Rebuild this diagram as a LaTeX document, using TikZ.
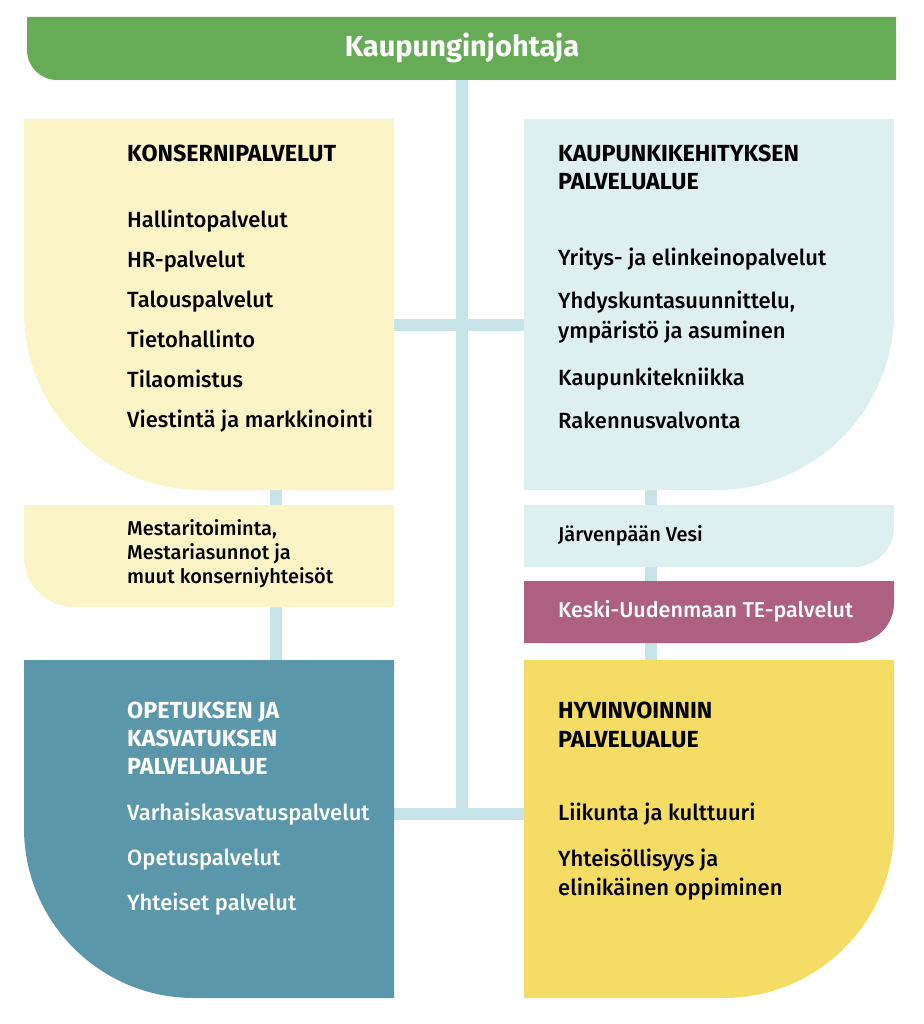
\documentclass[tikz,border=0pt]{standalone}
\usepackage{fontspec}
\setmainfont{Fira Sans}[UprightFont=* Medium, BoldFont=* Bold]
\usetikzlibrary{positioning}

\definecolor{johtogreen}{RGB}{102,171,85}
\definecolor{konsyellow}{RGB}{251,244,199}
\definecolor{kaupteal}{RGB}{221,239,239}
\definecolor{linkblue}{RGB}{198,228,232}
\definecolor{temagenta}{RGB}{173,96,128}
\definecolor{opetblue}{RGB}{91,151,171}
\definecolor{hyvyellow}{RGB}{245,220,100}

\tikzset{
  boxarea/.style={inner sep=0pt, outer sep=0pt, anchor=north west},
  link/.style={draw=linkblue, line width=12pt},
  head/.style={anchor=base west, inner sep=0pt, font=\fontsize{23.3}{27}\selectfont\bfseries},
  item/.style={anchor=base west, inner sep=0pt, font=\fontsize{22}{26}\selectfont},
  small/.style={anchor=base west, inner sep=0pt, font=\fontsize{20}{24}\selectfont},
}

\begin{document}
\begin{tikzpicture}[x=1pt, y=-1pt]
        \useasboundingbox (0,0) rectangle (923,1024);
        % connection points
        \coordinate (johto-s) at (462,80);
        \coordinate (trunk-end) at (462,820);
        \coordinate (kons-e) at (394,325);
        \coordinate (kaup-w) at (524,325);
        \coordinate (opet-e) at (394,814);
        \coordinate (hyv-w) at (524,814);
        \coordinate (kons-s) at (276,490);
        \coordinate (mest-n) at (276,505);
        \coordinate (mest-s) at (276,607);
        \coordinate (opet-n) at (276,660);
        \coordinate (kaup-s) at (651,490);
        \coordinate (vesi-n) at (651,505);
        \coordinate (vesi-s) at (651,567);
        \coordinate (te-n) at (651,581);
        \coordinate (te-s) at (651,643);
        \coordinate (hyv-n) at (651,660);
        % connectors
        \draw[link] (johto-s) -- (trunk-end);
        \draw[link] (kons-e) -- (kaup-w);
        \draw[link] (opet-e) -- (hyv-w);
        \draw[link] (kons-s) -- (mest-n);
        \draw[link] (mest-s) -- (opet-n);
        \draw[link] (kaup-s) -- (vesi-n);
        \draw[link] (vesi-s) -- (te-n);
        \draw[link] (te-s) -- (hyv-n);
        % boxes
        \fill[johtogreen] (27,17) -- (896,17) -- (896,80) -- (57,80) arc(90:180:30) -- cycle;
        \node[text=white, font=\fontsize{29}{32}\selectfont\bfseries] (johto) at (462,48) {Kaupunginjohtaja};
        \fill[konsyellow] (24,119) -- (394,119) -- (394,490) -- (202,490) arc(90:180:178) -- cycle;
        \fill[kaupteal] (524,119) -- (894,119) -- (894,312) arc(0:90:178) -- (524,490) -- cycle;
        \fill[konsyellow] (24,505) -- (394,505) -- (394,607) -- (74,607) arc(90:180:50) -- cycle;
        \fill[kaupteal] (524,505) -- (894,505) -- (894,527) arc(0:90:40) -- (524,567) -- cycle;
        \fill[temagenta] (524,581) -- (894,581) -- (894,603) arc(0:90:40) -- (524,643) -- cycle;
        \fill[opetblue] (24,660) -- (394,660) -- (394,998) -- (194,998) arc(90:180:170) -- cycle;
        \fill[hyvyellow] (524,660) -- (894,660) -- (894,828) arc(0:90:170) -- (524,998) -- cycle;
        % konsernipalvelut
        \node[head] (kons) at (127,162) {KONSERNIPALVELUT};
        \node[item] (hall) at (127,227) {Hallintopalvelut};
        \node[item] (hr) at (127,267) {HR-palvelut};
        \node[item] (talo) at (127,307) {Talouspalvelut};
        \node[item] (tieto) at (127,347) {Tietohallinto};
        \node[item] (tila) at (127,387) {Tilaomistus};
        \node[item] (vies) at (127,427) {Viestintä ja markkinointi};
        % kaupunkikehitys
        \node[head] (kaup) at (558,162) {KAUPUNKIKEHITYKSEN};
        \node[head] (kaup2) at (558,190) {PALVELUALUE};
        \node[item] (yrit) at (558,265) {Yritys- ja elinkeinopalvelut};
        \node[item] (yhdy) at (558,308) {Yhdyskuntasuunnittelu,};
        \node[item] (ymp) at (558,338) {ympäristö ja asuminen};
        \node[item] (ktek) at (558,385) {Kaupunkitekniikka};
        \node[item] (rak) at (558,428) {Rakennusvalvonta};
        % pienet laatikot
        \node[small] (mest) at (127,535) {Mestaritoiminta,};
        \node[small] (mest2) at (127,559) {Mestariasunnot ja};
        \node[small] (mest3) at (127,583) {muut konserniyhteisöt};
        \node[small] (vesi) at (558,541) {Järvenpään Vesi};
        \node[item, text=white, font=\fontsize{21.5}{25}\selectfont] (te) at (558,617) {Keski-Uudenmaan TE-palvelut};
        % opetus
        \node[head, text=white] (opet) at (127,718) {OPETUKSEN JA};
        \node[head, text=white] (opet2) at (127,746) {KASVATUKSEN};
        \node[head, text=white] (opet3) at (127,774) {PALVELUALUE};
        \node[item, text=white] (varh) at (127,820) {Varhaiskasvatuspalvelut};
        \node[item, text=white] (opetp) at (127,865) {Opetuspalvelut};
        \node[item, text=white] (yhte) at (127,910) {Yhteiset palvelut};
        % hyvinvointi
        \node[head] (hyv) at (558,718) {HYVINVOINNIN};
        \node[head] (hyv2) at (558,747) {PALVELUALUE};
        \node[item] (liik) at (558,820) {Liikunta ja kulttuuri};
        \node[item] (yhts) at (558,866) {Yhteisöllisyys ja};
        \node[item] (elin) at (558,895) {elinikäinen oppiminen};
        \end{tikzpicture}
\end{document}
